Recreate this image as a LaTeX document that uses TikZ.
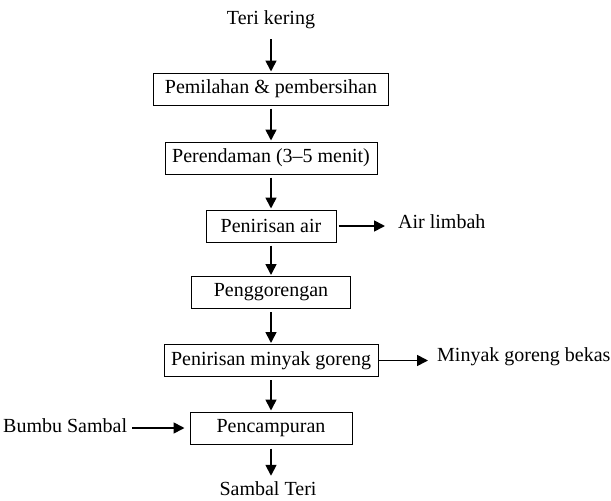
\documentclass[tikz,border=0pt]{standalone}
\usepackage{fontspec}
\setmainfont{Liberation Serif}
\usetikzlibrary{arrows.meta}
\begin{document}
\begin{tikzpicture}[x=1pt,y=-1pt,
  every node/.style={font=\fontsize{20pt}{23pt}\selectfont, inner sep=2pt},
  stepbox/.style={draw, line width=1pt, minimum height=32pt, inner sep=0pt},
  flow/.style={line width=1.7pt, -{Triangle[length=11pt,width=11pt]}}]
\useasboundingbox (0,0) rectangle (611,501);
\node (t0) at (271,20) {Teri kering};
\node[stepbox, minimum width=235pt] (b1) at (271,89) {Pemilahan \& pembersihan};
\node[stepbox, minimum width=212pt] (b2) at (271,158) {Perendaman (3–5 menit)};
\node[stepbox, minimum width=130pt] (b3) at (271,226) {Penirisan air};
\node[stepbox, minimum width=159pt] (b4) at (271,292.5) {Penggorengan};
\node[stepbox, minimum width=214pt] (b5) at (271,360.5) {Penirisan minyak goreng};
\node[stepbox, minimum width=162pt] (b6) at (271,428) {Pencampuran};
\node (out) at (268,489) {Sambal Teri};
\node[anchor=west] (al) at (396,222) {Air limbah};
\node[anchor=west] (mg) at (435,357) {Minyak goreng bekas};
\node[anchor=west] (bs) at (1,426) {Bumbu Sambal};
\draw[flow, shorten <=8pt, shorten >=1pt] (t0) -- (b1);
\draw[flow, shorten <=3pt, shorten >=1pt] (b1) -- (b2);
\draw[flow, shorten <=3pt, shorten >=1pt] (b2) -- (b3);
\draw[flow, shorten <=3pt, shorten >=1pt] (b3) -- (b4);
\draw[flow, shorten <=3pt, shorten >=1pt] (b4) -- (b5);
\draw[flow, shorten <=3pt, shorten >=1pt] (b5) -- (b6);
\draw[flow, shorten <=4pt, shorten >=4pt] (b6.south) -- (b6.south |- out.north);
\draw[flow, shorten <=2pt, shorten >=11pt] (b3.east) -- (b3.east -| al.west);
\draw[flow, shorten <=0pt, shorten >=7pt] (b5.east) -- (b5.east -| mg.west);
\draw[flow, shorten <=3pt, shorten >=5pt] (bs.east |- b6.west) -- (b6.west);
\end{tikzpicture}
\end{document}
